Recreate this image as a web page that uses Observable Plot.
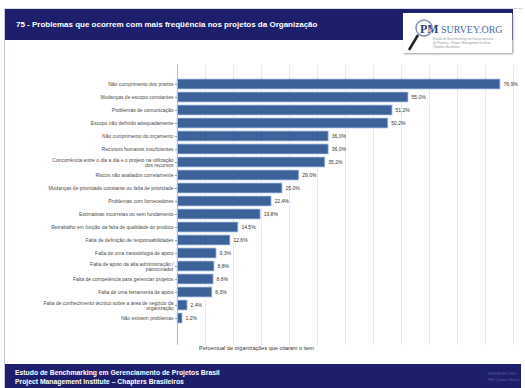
<!DOCTYPE html>
<html><head><meta charset="utf-8">
<script src="https://cdn.jsdelivr.net/npm/d3@7"></script>
<script src="https://cdn.jsdelivr.net/npm/@observablehq/plot@0.6"></script>
<style>
body{margin:0;background:#fff;font-family:"Liberation Sans",Arial,sans-serif;}
#page{position:relative;width:525px;height:388px;overflow:hidden;background:#fff;}
#frame{position:absolute;left:4px;top:8px;width:518px;height:382px;border-left:1px solid #c3c9d8;border-top:1px solid #d8dbe6;}
#header{position:absolute;left:5px;top:9px;width:508px;height:31px;background:#1d1f6c;}
#title{position:absolute;left:16px;top:20px;color:#fff;font-size:8px;font-weight:bold;white-space:nowrap;}
#logo{position:absolute;left:403px;top:13px;width:109px;height:40px;background:#fff;box-shadow:1px 1px 2px #999;}
#footer{position:absolute;left:5px;top:364px;width:516px;height:24px;background:#1d1f6c;}
.ft{position:absolute;left:15px;color:#fff;font-size:6.8px;font-weight:bold;white-space:nowrap;}
.fr{position:absolute;left:488px;color:#5c6099;font-size:3.5px;white-space:nowrap;}
#xtitle{position:absolute;left:199px;top:345px;font-size:5.5px;color:#333;white-space:nowrap;}
#chart{position:absolute;left:0;top:60px;}
</style></head>
<body><div id="page">
<div id="frame"></div>
<div id="header"></div>
<div id="title">75 - Problemas que ocorrem com mais freqüência nos projetos da Organização</div>
<div id="logo"><svg width="109" height="40">
<text x="17" y="20" font-size="12" font-family="Liberation Serif" fill="#2a3f7a" font-weight="bold">PM</text>
<text x="38" y="20" font-size="10" font-family="Liberation Serif" fill="#4a6aa8">SURVEY.ORG</text>
<circle cx="21" cy="15" r="8" fill="none" stroke="#7a8fb8" stroke-width="1.5"/>
<line x1="15" y1="22" x2="6" y2="37" stroke="#222" stroke-width="2.5"/>
<text x="30" y="27" font-size="3" fill="#999">Estudo de Benchmarking em Gerenciamento</text>
<text x="30" y="31" font-size="3" fill="#999">de Projetos – Project Management Institute</text>
<text x="30" y="35" font-size="3" fill="#999">Chapters Brasileiros</text>
</svg></div>
<div id="chart"></div>
<div id="xtitle">Percentual de organizações que citaram o item</div>
<div id="footer"></div>
<div class="ft" style="top:369px">Estudo de Benchmarking em Gerenciamento de Projetos Brasil</div>
<div class="ft" style="top:378px">Project Management Institute – Chapters Brasileiros</div>
<div class="fr" style="top:372px">PMSURVEY.ORG</div>
<div class="fr" style="top:378px">PMI Chapters Brasil</div>
</div>
<script>
const categories = [
  "Não cumprimento dos prazos",
  "Mudanças de escopo constantes",
  "Problemas de comunicação",
  "Escopo não definido adequadamente",
  "Não cumprimento do orçamento",
  "Recursos humanos insuficientes",
  "Concorrência entre o dia a dia e o projeto na utilização\ndos recursos",
  "Riscos não avaliados corretamente",
  "Mudanças de prioridade constante ou falta de prioridade",
  "Problemas com fornecedores",
  "Estimativas incorretas ou sem fundamento",
  "Retrabalho em função da falta de qualidade do produto",
  "Falta de definição de responsabilidades",
  "Falta de uma metodologia de apoio",
  "Falta de apoio da alta administração /\npatrocinador",
  "Falta de competência para gerenciar projetos",
  "Falta de uma ferramenta de apoio",
  "Falta de conhecimento técnico sobre a área de negócio da\norganização",
  "Não existem problemas"
];
const values = [76.9, 55.0, 51.2, 50.2, 36.0, 36.0, 35.2, 29.0, 25.0, 22.4, 19.8, 14.5, 12.6, 9.3, 8.8, 8.6, 8.3, 2.4, 1.2];
const axisMax = 80;
const gridTicks = d3.range(1, 13).map(i => i * axisMax / 12);

const data = categories.map((c, i) => ({label: c, value: values[i]}));

const chart = Plot.plot({
  width: 525,
  height: 290,
  marginLeft: 177,
  marginRight: 12,
  marginTop: 5,
  marginBottom: 5,
  style: {fontFamily: "'Liberation Sans', Arial, sans-serif", background: "transparent"},
  x: {domain: [0, axisMax], axis: null},
  y: {domain: categories, paddingInner: 0.25, paddingOuter: 1.04, align: 0.39, axis: null},
  marks: [
    Plot.ruleX(gridTicks, {stroke: "#e4e4e4", strokeWidth: 0.8}),
    Plot.barX(data, {x: "value", y: "label", fill: "#3d6199", stroke: "#b3cbea", strokeWidth: 0.8}),
    Plot.ruleX([0], {stroke: "#b8b8b8"}),
    Plot.axisY({label: null, tickSize: 2, tickPadding: 2, fontSize: 5, fill: "#4a4a4a", stroke: "#999"}),
    Plot.text(data, {x: "value", y: "label", text: d => d.value.toFixed(1).replace(".", ",") + "%", dx: 3, textAnchor: "start", fontSize: 5, fill: "#333"})
  ]
});
document.getElementById("chart").appendChild(chart);
</script>
</body></html>
